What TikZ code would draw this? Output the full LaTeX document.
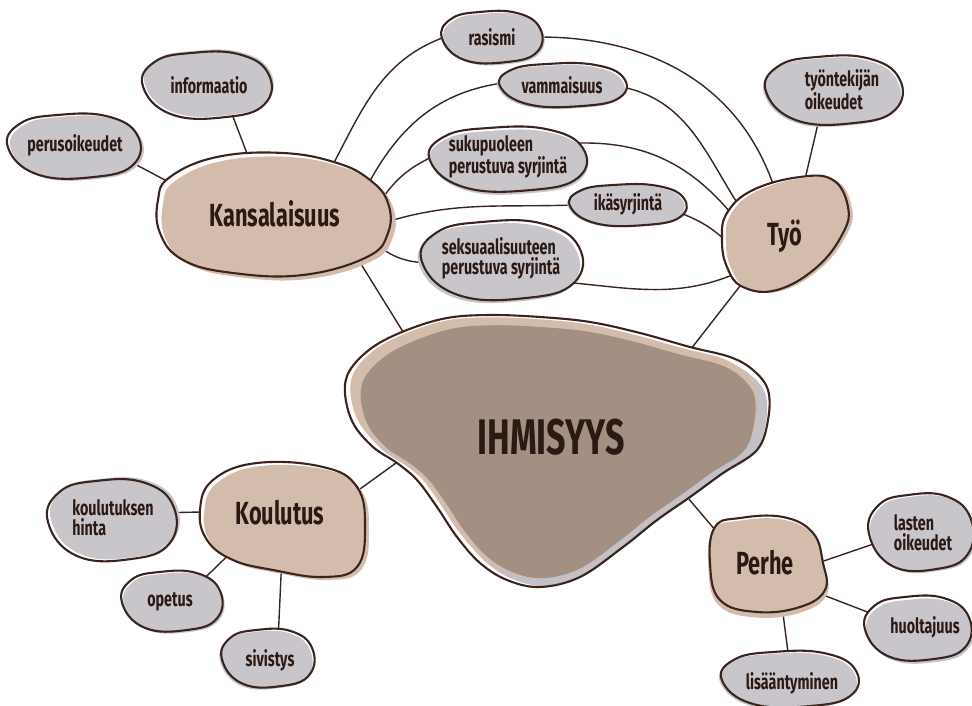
\documentclass[tikz,border=0pt]{standalone}
\usepackage{fontspec}
\setmainfont{Fira Sans}[FakeStretch=0.68]
\usetikzlibrary{shapes.geometric}
\pgfdeclarelayer{bg}
\pgfdeclarelayer{blobs}
\pgfsetlayers{bg,blobs,main}
\definecolor{ink}{HTML}{3A241E}
\definecolor{txt}{HTML}{2B1914}
\definecolor{beige}{HTML}{D3BCAC}
\definecolor{darkb}{HTML}{A39083}
\definecolor{gfill}{HTML}{C8C6CA}
\definecolor{gshade}{HTML}{C3C1C6}
\tikzset{
  area/.style={ellipse, inner sep=0pt, draw=none},
  hublbl/.style={inner sep=0pt, text=txt, font=\bfseries\fontsize{32}{32}\selectfont},
  lbl/.style={inner sep=0pt, text=txt, align=left, font=\bfseries\fontsize{21}{20}\selectfont},
  conn/.style={draw=ink, line width=1.4pt},
  outl/.style={draw=ink, line width=2.1pt, line join=round},
}
\newcommand\gpath[4]{plot[smooth cycle,tension=0.75] coordinates{({#1-#3},{#2+0.05*#4}) ({#1-0.82*#3},{#2-0.72*#4}) ({#1-0.25*#3},{#2-#4}) ({#1+0.5*#3},{#2-0.96*#4}) ({#1+0.96*#3},{#2-0.35*#4}) ({#1+0.9*#3},{#2+0.6*#4}) ({#1+0.3*#3},{#2+#4}) ({#1-0.55*#3},{#2+0.92*#4})}}
\newcommand\gblob[6]{%
  \fill[white] \gpath{#1}{#2}{#3}{#4};
  \fill[gfill] \gpath{#1#5}{#2#6}{#3}{#4};
  \draw[outl] \gpath{#1}{#2}{#3}{#4};}
\def\kansO{plot[smooth cycle,tension=0.7] coordinates{(158,200)(170,177)(217,157)(283,153)(337,163)(370,180)(388,203)(388,233)(367,257)(303,275)(233,273)(183,260)(160,233)}}
\def\tyoO{plot[smooth cycle,tension=0.7] coordinates{(727,213)(753,190)(800,177)(833,180)(848,207)(843,233)(817,267)(777,290)(743,287)(727,267)(722,240)}}
\def\koulO{plot[smooth cycle,tension=0.7] coordinates{(200,510)(213,480)(257,463)(323,467)(357,487)(365,527)(357,567)(323,577)(273,570)(233,560)(207,540)}}
\def\perheO{plot[smooth cycle,tension=0.7] coordinates{(715,527)(740,518)(783,517)(813,533)(823,563)(825,590)(800,607)(757,612)(720,600)(710,563)}}
\def\ihO{plot[smooth cycle,tension=0.6] coordinates{(345,393)(350,370)(373,347)(407,330)(447,318)(490,315)(540,317)(590,322)(640,333)(690,347)(730,357)(753,370)(768,390)(768,420)(757,450)(723,473)(690,497)(657,520)(623,547)(580,577)(540,587)(507,580)(480,563)(457,537)(437,507)(417,480)(397,463)(373,447)(353,423)}}
\begin{document}
\begin{tikzpicture}[x=1pt,y=-1pt]
\useasboundingbox (0,0) rectangle (972,706);
% connection areas
\node[area, minimum width=216pt, minimum height=104pt] (kans) at (274,213) {};
\node[area, minimum width=116pt, minimum height=104pt] (tyo) at (785,233) {};
\node[area, minimum width=156pt, minimum height=104pt] (koul) at (283,520) {};
\node[area, minimum width=106pt, minimum height=86pt] (perhe) at (767,565) {};
\node[area, minimum width=300pt, minimum height=200pt] (ih) at (556,442) {};
\node[area, minimum width=94pt, minimum height=44pt] (ras) at (492,37) {};
\node[area, minimum width=120pt, minimum height=36pt] (vamm) at (563,85) {};
\node[area, minimum width=150pt, minimum height=56pt] (suku) at (508,159) {};
\node[area, minimum width=110pt, minimum height=34pt] (ika) at (628,205) {};
\node[area, minimum width=154pt, minimum height=70pt] (seks) at (502,260) {};
\node[area, minimum width=122pt, minimum height=58pt] (info) at (207,85) {};
\node[area, minimum width=126pt, minimum height=56pt] (perus) at (74,146) {};
\node[area, minimum width=130pt, minimum height=60pt] (tyon) at (834,90) {};
\node[area, minimum width=122pt, minimum height=72pt] (khin) at (112,520) {};
\node[area, minimum width=94pt, minimum height=52pt] (ope) at (172,601) {};
\node[area, minimum width=86pt, minimum height=50pt] (siv) at (268,658) {};
\node[area, minimum width=98pt, minimum height=68pt] (last) at (921,532) {};
\node[area, minimum width=100pt, minimum height=56pt] (huol) at (918,628) {};
\node[area, minimum width=130pt, minimum height=48pt] (lis) at (790,679) {};
% labels
\node[hublbl] (kans-t) at (275,214) {Kansalaisuus};
\node[hublbl] (tyo-t) at (785,236) {Työ};
\node[hublbl] (koul-t) at (280,513) {Koulutus};
\node[hublbl] (perhe-t) at (765,563) {Perhe};
\node[hublbl, font=\bfseries\fontsize{50}{50}\selectfont] (ih-t) at (551,437) {IHMISYYS};
\node[lbl] (ras-t) at (492,37) {rasismi};
\node[lbl] (vamm-t) at (562,85) {vammaisuus};
\node[lbl] (suku-t) at (508,157) {sukupuoleen\\perustuva syrjintä};
\node[lbl] (ika-t) at (628,204) {ikäsyrjintä};
\node[lbl] (seks-t) at (501,258) {seksuaalisuuteen\\perustuva syrjintä};
\node[lbl] (info-t) at (209,85) {informaatio};
\node[lbl] (perus-t) at (75,145) {perusoikeudet};
\node[lbl] (tyon-t) at (842,90) {työntekijän\\oikeudet};
\node[lbl] (khin-t) at (113,518) {koulutuksen\\hinta};
\node[lbl] (ope-t) at (170,602) {opetus};
\node[lbl] (siv-t) at (270,660) {sivistys};
\node[lbl] (last-t) at (923,533) {lasten\\oikeudet};
\node[lbl] (huol-t) at (925,627) {huoltajuus};
\node[lbl] (lis-t) at (792,683) {lisääntyminen};
% connectors
\begin{pgfonlayer}{bg}
\draw[conn] (perus.-15) -- (kans.165);
\draw[conn] (info.-48) -- (kans.115);
\draw[conn] (kans.-25) -- (ih.154);
\draw[conn] (tyon.-117) -- (tyo.69);
\draw[conn] (tyo.-131) -- (ih.30);
\draw[conn] (ih.-175) -- (koul.20);
\draw[conn] (khin.7) -- (koul.174);
\draw[conn] (koul.213) -- (ope.34);
\draw[conn] (koul.-92) -- (siv.67);
\draw[conn] (ih.-22) -- (perhe.150);
\draw[conn] (perhe.3) -- (last.194);
\draw[conn] (perhe.-30) -- (huol.163);
\draw[conn] (perhe.-70) -- (lis.94);
\draw[conn] (kans.38) to[out=62,in=200] (ras.180);
\draw[conn] (ras.0) to[out=0,in=110] (tyo.104);
\draw[conn] (kans.16) to[out=62,in=188] (vamm.178);
\draw[conn] (vamm.-2) to[out=-12,in=122] (tyo.148);
\draw[conn] (kans.6) to[out=55,in=205] (suku.178);
\draw[conn] (suku.14) to[out=3,in=130] (tyo.160);
\draw[conn] (kans.-6) to[out=18,in=182] (ika.180);
\draw[conn] (ika.-8) to[out=-22,in=135] (tyo.190);
\draw[conn] (kans.-15) to[out=-40,in=178] (seks.182);
\draw[conn] (seks.-20) to[out=-5,in=205] (tyo.222);
\end{pgfonlayer}
% blobs
\begin{pgfonlayer}{blobs}
% IHMISYYS
\fill[white] \ihO;
\fill[gshade, shift={(4,3)}, scale around={0.97:(556,447)}] \ihO;
\fill[beige, shift={(-3,-3)}, scale around={0.96:(556,447)}] \ihO;
\fill[darkb, shift={(1,1)}, scale around={0.93:(556,447)}] \ihO;
\draw[outl] \ihO;
% hubs
\fill[white] \kansO; \fill[beige, shift={(5,4)}] \kansO; \draw[outl] \kansO;
\fill[white] \tyoO; \fill[beige, shift={(4,1)}] \tyoO; \draw[outl] \tyoO;
\fill[white] \koulO; \fill[beige, shift={(4,3)}] \koulO; \draw[outl] \koulO;
\fill[white] \perheO; \fill[beige, scale around={1.03:(767,565)}, shift={(0,4)}] \perheO; \draw[outl] \perheO;
% leaves
\gblob{492}{37}{50}{25}{+2}{+2}
\gblob{563}{85}{63}{21}{-2}{+2}
\gblob{508}{159}{78}{31}{+1}{+3}
\gblob{628}{205}{58}{20}{-2}{+1}
\gblob{502}{260}{80}{38}{-3}{+3}
\gblob{207}{85}{64}{32}{+2}{-2}
\gblob{74}{146}{66}{31}{+3}{+2}
\gblob{834}{90}{68}{33}{-2}{+2}
\gblob{112}{520}{64}{39}{+3}{-2}
\gblob{172}{601}{50}{29}{+2}{+2}
\gblob{268}{658}{46}{28}{-2}{+2}
\gblob{921}{532}{52}{37}{+2}{+2}
\gblob{918}{628}{53}{31}{+2}{+3}
\gblob{790}{679}{68}{27}{-2}{+2}
\end{pgfonlayer}
\end{tikzpicture}
\end{document}
